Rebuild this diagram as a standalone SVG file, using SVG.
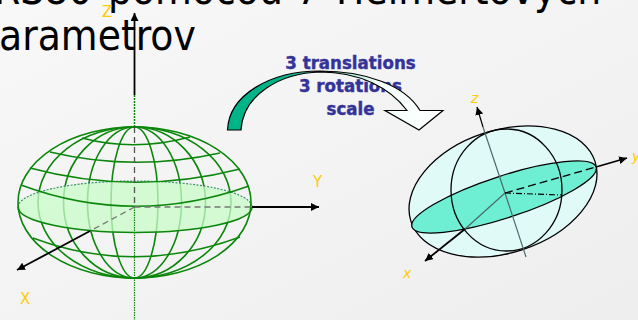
<svg xmlns="http://www.w3.org/2000/svg" width="638" height="320" viewBox="0 0 638 320">
<defs>
<linearGradient id="bg" x1="0" y1="0" x2="1" y2="1"><stop offset="0" stop-color="#f8f8f8"/><stop offset="1" stop-color="#eeeeee"/></linearGradient>
<linearGradient id="arrowFill" gradientUnits="userSpaceOnUse" x1="227" y1="0" x2="443" y2="0"><stop offset="0" stop-color="#00b487"/><stop offset="0.25" stop-color="#00b487"/><stop offset="0.7" stop-color="#f4fffb"/><stop offset="1" stop-color="#ffffff"/></linearGradient>
<marker id="ah" markerUnits="userSpaceOnUse" markerWidth="10" markerHeight="10" refX="8" refY="4" orient="auto"><path d="M0,0 L8,4 L0,8 Z" fill="#000"/></marker>
</defs>
<style>
.title{font-family:"DejaVu Sans Condensed","DejaVu Sans",sans-serif;font-stretch:condensed;font-size:42px;fill:#000}
.lab{font-family:"DejaVu Sans",sans-serif;font-size:15px;fill:#ffcc00}
.labi{font-family:"DejaVu Sans",sans-serif;font-size:14px;font-style:italic;fill:#ffcc00}
.blue{font-family:"DejaVu Sans Condensed","DejaVu Sans",sans-serif;font-stretch:condensed;font-size:18.500px;font-weight:bold;fill:#333399;stroke:#333399;stroke-width:0.400;text-anchor:middle}
.g{fill:none;stroke:#0a860a;stroke-width:1.600}
.ax{fill:none;stroke:#000;stroke-width:1.800}
</style>
<rect width="638" height="320" fill="url(#bg)"/>
<g id="title">
<text class="title" y="4"><tspan x="-6">RS80</tspan> <tspan x="108">pomocou</tspan> <tspan x="296">7</tspan> <tspan x="336">Helmertových</tspan></text>
<text class="title" x="-25" y="50">parametrov</text>
</g>
<g id="label-transform">
<text class="blue" x="350.500" y="69">3 translations</text>
<text class="blue" x="350.500" y="92">3 rotations</text>
<text class="blue" x="350.500" y="115">scale</text>
</g>
<g id="arrow-transform">
<path d="M227.500,130 C229,95 270,71 320,71 C365,71 405,85 420,110.500 L443,110.500 L419,130 L385,110.500 L407,110.500 C390,88 360,72 320,72 C280,73 243,95 241,130 Z" fill="url(#arrowFill)" stroke="#000" stroke-width="1.200"/>
</g>
<g id="globe">
<ellipse class="g" cx="134.500" cy="202.500" rx="96.500" ry="75.500"/>
<ellipse class="g" cx="134.500" cy="202.500" rx="71" ry="75.500"/>
<ellipse class="g" cx="134.500" cy="202.500" rx="47" ry="75.500"/>
<ellipse class="g" cx="134.500" cy="202.500" rx="23.500" ry="75.500"/>
<ellipse cx="134.500" cy="207" rx="117" ry="26" fill="#c8fcc8" fill-opacity="0.750"/>
<path d="M18,207 A117,26 0 0 1 252,207" fill="none" stroke="#3f8f6f" stroke-width="1.200" stroke-dasharray="2 1.500"/>
<ellipse class="g" cx="134.500" cy="202.500" rx="116.500" ry="75.500"/>
<path class="g" d="M82,138 Q134,152 190,137"/>
<path class="g" d="M50,152 Q134,172 220,153"/>
<path class="g" d="M30,168 Q134,196 240,169"/>
<path class="g" d="M21,185 Q134,227 249,186"/>
<path class="g" d="M18,207 A117,25.500 0 0 0 252,207" stroke-width="2"/>
<path class="g" d="M33,238 Q134,276 240,237"/>
</g>
<g id="ellipsoid">
<ellipse cx="503" cy="191.500" rx="96.800" ry="61.300" transform="rotate(-18 503 191.500)" fill="#e0faf8" stroke="#000" stroke-width="1.300"/>
<ellipse cx="504" cy="197" rx="96.800" ry="21" transform="rotate(-18 504 197)" fill="#6eeed2" stroke="#000" stroke-width="1.300"/>
<ellipse cx="506.500" cy="190" rx="55.500" ry="61" fill="none" stroke="#000" stroke-width="1.300"/>
</g>
<g id="connectors">
<path d="M134.500,95 V13" class="ax" marker-end="url(#ah)"/>
<path d="M134.500,95 V127" fill="none" stroke="#0a860a" stroke-width="1.500" stroke-dasharray="2 1"/>
<path d="M134.500,127 V207" fill="none" stroke="#555" stroke-width="1.300" stroke-dasharray="6 4"/>
<path d="M134.500,207 V320" fill="none" stroke="#0a860a" stroke-width="1.200" stroke-dasharray="1.500 1"/>
<path d="M134.500,207 H251 M134.500,207 L90,231" fill="none" stroke="#777" stroke-width="1.300" stroke-dasharray="6 4"/>
<path d="M252,207 H319" class="ax" marker-end="url(#ah)"/>
<path d="M90,231 L17,270" class="ax" marker-end="url(#ah)"/>
<path d="M526,257 L505,193 L483,127" fill="none" stroke="#4c6b68" stroke-width="1.200"/>
<path d="M483,127 L477,107" fill="none" stroke="#000" stroke-width="1.200" marker-end="url(#ah)"/>
<path d="M505,193 L465,229" fill="none" stroke="#4c6b68" stroke-width="1.200"/>
<path d="M465,229 L425,261" class="ax" marker-end="url(#ah)"/>
<path d="M505,193 L596,167" fill="none" stroke="#000" stroke-width="1.300" stroke-dasharray="8 4"/>
<path d="M596,167 L627,158" class="ax" marker-end="url(#ah)"/>
<path d="M505,193 L562,195" fill="none" stroke="#000" stroke-width="1.200" stroke-dasharray="6 2 1 2"/>
</g>
<g id="axis-labels">
<text class="lab" x="102" y="17">Z</text>
<text class="lab" x="313" y="187">Y</text>
<text class="lab" x="20" y="304">X</text>
<text class="labi" x="471" y="103">z</text>
<text class="labi" x="632" y="161">y</text>
<text class="labi" x="403" y="278">x</text>
</g>
</svg>
